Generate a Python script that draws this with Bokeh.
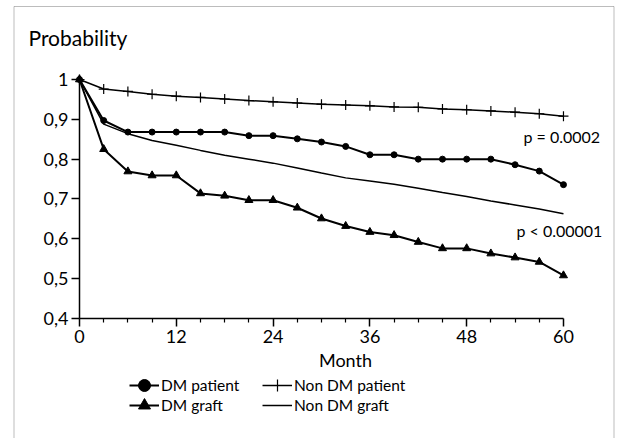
from bokeh.plotting import figure
from bokeh.models import FixedTicker, Label, Legend, LegendItem, Range1d, BoxAnnotation
from bokeh.embed import file_html
from bokeh.resources import INLINE

# ---- data ----
months = [0, 3, 6, 9, 12, 15, 18, 21, 24, 27, 30, 33, 36, 39, 42, 45, 48, 51, 54, 57, 60]
dm_patient = [1.0, 0.897, 0.868, 0.868, 0.868, 0.868, 0.868, 0.859, 0.859, 0.851, 0.843,
              0.832, 0.811, 0.811, 0.800, 0.800, 0.800, 0.800, 0.786, 0.770, 0.736]
non_dm_patient = [1.0, 0.976, 0.970, 0.963, 0.958, 0.955, 0.951, 0.947, 0.944, 0.941, 0.938,
                  0.936, 0.934, 0.931, 0.930, 0.926, 0.924, 0.921, 0.918, 0.914, 0.908]
dm_graft = [1.0, 0.825, 0.769, 0.759, 0.759, 0.714, 0.708, 0.697, 0.697, 0.678, 0.651,
            0.632, 0.617, 0.609, 0.592, 0.576, 0.576, 0.563, 0.553, 0.542, 0.508]
non_dm_graft = [1.0, 0.888, 0.864, 0.847, 0.835, 0.822, 0.810, 0.800, 0.790, 0.778, 0.765,
                0.753, 0.745, 0.737, 0.727, 0.716, 0.706, 0.695, 0.685, 0.675, 0.663]

x_major = [0, 12, 24, 36, 48, 60]
x_minor = [3, 6, 9, 15, 18, 21, 27, 30, 33, 39, 42, 45, 51, 54, 57]
y_ticks = [0.4, 0.5, 0.6, 0.7, 0.8, 0.9, 1.0]
y_tick_labels = ["0,4", "0,5", "0,6", "0,7", "0,8", "0,9", "1"]

FONT = "Lato"

# frame covers the whole canvas; axes sit at fixed data locations
p = figure(width=620, height=438,
           x_range=Range1d(-9.793, 67.07), y_range=Range1d(0.0987, 1.1983),
           output_backend="svg", toolbar_location=None,
           min_border_left=0, min_border_right=0,
           min_border_top=0, min_border_bottom=0)
p.xgrid.visible = False
p.ygrid.visible = False
p.outline_line_color = None
p.background_fill_color = "white"
p.border_fill_color = "white"

# axes
xa = p.xaxis[0]
xa.fixed_location = 0.4
xa.ticker = FixedTicker(ticks=x_major, minor_ticks=x_minor)
xa.bounds = (0, 60)
xa.axis_line_width = 1.5
xa.axis_line_color = "black"
xa.major_tick_in = 0
xa.major_tick_out = 8
xa.minor_tick_in = 0
xa.minor_tick_out = 4
xa.major_tick_line_width = 1.5
xa.minor_tick_line_width = 1.2
xa.major_tick_line_color = "black"
xa.minor_tick_line_color = "black"
xa.major_label_text_font = FONT
xa.major_label_text_font_size = "18px"
xa.major_label_text_color = "black"
xa.major_label_standoff = 4

ya = p.yaxis[0]
ya.fixed_location = 0
ya.ticker = FixedTicker(ticks=y_ticks, minor_ticks=[])
ya.major_label_overrides = dict(zip(y_ticks, y_tick_labels))
ya.bounds = (0.4, 1.0)
ya.axis_line_width = 1.5
ya.axis_line_color = "black"
ya.major_tick_in = 0
ya.major_tick_out = 8
ya.minor_tick_line_color = None
ya.major_tick_line_width = 1.5
ya.major_tick_line_color = "black"
ya.major_label_text_font = FONT
ya.major_label_text_font_size = "18px"
ya.major_label_text_color = "black"
ya.major_label_standoff = 3

# series
l_ndg = p.line(months, non_dm_graft, line_width=1.5, color="black")
l_ndp = p.line(months, non_dm_patient, line_width=1.5, color="black")
s_ndp = p.scatter(months, non_dm_patient, marker="cross", size=10, line_width=1.2, color="black")
l_dp = p.line(months, dm_patient, line_width=2, color="black")
s_dp = p.scatter(months, dm_patient, marker="circle", size=6, color="black")
l_dg = p.line(months, dm_graft, line_width=2, color="black")
s_dg = p.scatter(months, dm_graft, marker="triangle", size=8, color="black")

# surrounding border (screen units, relative to frame bottom-left)
p.add_layout(BoxAnnotation(left=13.5, right=613.5, top=432, bottom=-10,
                           left_units="screen", right_units="screen",
                           top_units="screen", bottom_units="screen",
                           fill_alpha=0, line_color="#222", line_width=1))

# legend: one single-item legend per entry (2 x 2 arrangement)
def make_legend(label, renderers, vx, vy):
    return Legend(items=[LegendItem(label=label, renderers=renderers)],
                  location=(vx, vy), orientation="vertical",
                  glyph_width=30, glyph_height=32, label_height=20, spacing=0,
                  label_standoff=2, padding=0, margin=0,
                  background_fill_alpha=0, border_line_alpha=0,
                  label_text_font=FONT, label_text_font_size="15.5px",
                  label_text_color="black")

p.add_layout(make_legend("DM patient", [l_dp, s_dp], 129, 37))
p.add_layout(make_legend("DM graft", [l_dg, s_dg], 129, 17))
p.add_layout(make_legend("Non DM patient", [l_ndp, s_ndp], 262, 37))
p.add_layout(make_legend("Non DM graft", [l_ndg], 262, 17))

# texts
p.add_layout(Label(x=28, y=401, x_units="screen", y_units="screen", text="Probability",
                   text_font=FONT, text_font_size="21px", text_color="black",
                   text_baseline="alphabetic"))
p.add_layout(Label(x=345, y=79, x_units="screen", y_units="screen", text="Month",
                   text_font=FONT, text_font_size="18px", text_color="black",
                   text_align="center", text_baseline="alphabetic"))
p.add_layout(Label(x=523, y=302, x_units="screen", y_units="screen", text="p = 0.0002",
                   text_font=FONT, text_font_size="16px", text_color="black",
                   text_baseline="alphabetic"))
p.add_layout(Label(x=516, y=208, x_units="screen", y_units="screen", text="p < 0.00001",
                   text_font=FONT, text_font_size="16px", text_color="black",
                   text_baseline="alphabetic"))

open("out.html", "w").write(file_html(p, INLINE))
